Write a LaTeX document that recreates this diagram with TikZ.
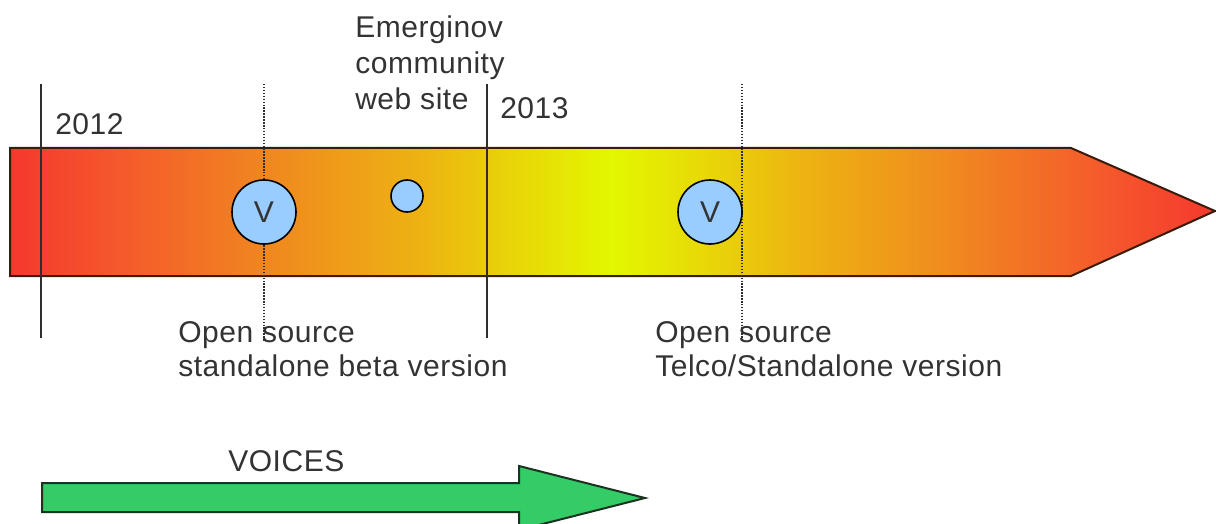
\documentclass[tikz,border=0pt]{standalone}
\usepackage{fontspec}
\setmainfont[LetterSpace=1.8]{Liberation Sans}
\definecolor{txt}{HTML}{333333}
\definecolor{rule}{HTML}{2E2E2E}
\definecolor{tedge}{HTML}{3A1C0C}
\definecolor{vblue}{HTML}{99CCFF}
\definecolor{vgreen}{HTML}{33CC66}
\definecolor{gedge}{HTML}{1A3320}
% red -> orange -> yellow -> orange -> red across the band
% (the span 25bp..75bp covers the filled path)
\pgfdeclarehorizontalshading{bandshade}{100bp}{%
  rgb(0bp)=(0.96,0.22,0.18);
  rgb(25bp)=(0.96,0.22,0.18);
  rgb(30bp)=(0.96,0.36,0.17);
  rgb(36bp)=(0.94,0.54,0.12);
  rgb(42bp)=(0.93,0.70,0.07);
  rgb(46bp)=(0.91,0.84,0.03);
  rgb(50bp)=(0.89,0.97,0.00);
  rgb(54bp)=(0.91,0.84,0.03);
  rgb(58bp)=(0.93,0.70,0.07);
  rgb(64bp)=(0.94,0.54,0.12);
  rgb(70bp)=(0.96,0.36,0.17);
  rgb(75bp)=(0.96,0.22,0.18);
  rgb(100bp)=(0.96,0.22,0.18)}
\begin{document}
\begin{tikzpicture}[x=0.75pt,y=-0.75pt,
  lbl/.style={font=\fontsize{22.5}{26.5}\selectfont, text=txt, inner sep=0pt},
  yearline/.style={draw=rule, line width=1.5pt},
  markline/.style={draw=rule, line width=1.3pt, dash pattern=on 1.1pt off 1.1pt},
  vcirc/.style={circle, draw=black, line width=1.2pt, fill=vblue, inner sep=0pt,
    font=\fontsize{22.5}{26.5}\selectfont, text=txt}]
\useasboundingbox (0,0) rectangle (1216,524);

% timeline band with pointed end
\shadedraw[shading=bandshade, draw=tedge, line width=1.5pt, line join=miter]
  (10,148) -- (1071,148) -- (1215,211) -- (1071,276) -- (10,276) -- cycle;

% year boundaries
\coordinate (y12a) at (41,84);  \coordinate (y12b) at (41,338);
\coordinate (y13a) at (487,84); \coordinate (y13b) at (487,338);
\draw[yearline] (y12a) -- (y12b);
\draw[yearline] (y13a) -- (y13b);

% release markers
\coordinate (m1a) at (264,84);  \coordinate (m1b) at (264,341);
\coordinate (m2a) at (742,84);  \coordinate (m2b) at (742,341);
\draw[markline] (m1a) -- (m1b);
\draw[markline] (m2a) -- (m2b);

\node[vcirc, minimum size=48pt] (v1) at (264,212) {V};
\node[vcirc, minimum size=24pt] (web) at (407,196) {};
\node[vcirc, minimum size=48pt] (v2) at (710,212) {V};

% labels
\node[lbl, anchor=base west] (t2012) at (55,135) {2012};
\node[lbl, anchor=base west] (t2013) at (500,119) {2013};
\node[lbl, anchor=north west, align=left, font=\fontsize{22.5}{27}\selectfont]
  (tweb) at (355,15.5) {Emerginov\\community\\web site};
\node[lbl, anchor=north west, align=left, font=\fontsize{22.5}{25.5}\selectfont]
  (tbeta) at (178,321.5) {Open source\\standalone beta version};
\node[lbl, anchor=north west, align=left, font=\fontsize{22.5}{25.5}\selectfont]
  (ttelco) at (655,321.5) {Open source\\Telco/Standalone version};

% project arrow
\node[lbl, anchor=base west] (tvoices) at (228,471) {VOICES};
\filldraw[fill=vgreen, draw=gedge, line width=1.5pt, line join=miter]
  (42,483) -- (519,483) -- (519,466) -- (645,498) -- (519,530) -- (519,512)
  -- (42,512) -- cycle;
\end{tikzpicture}
\end{document}
